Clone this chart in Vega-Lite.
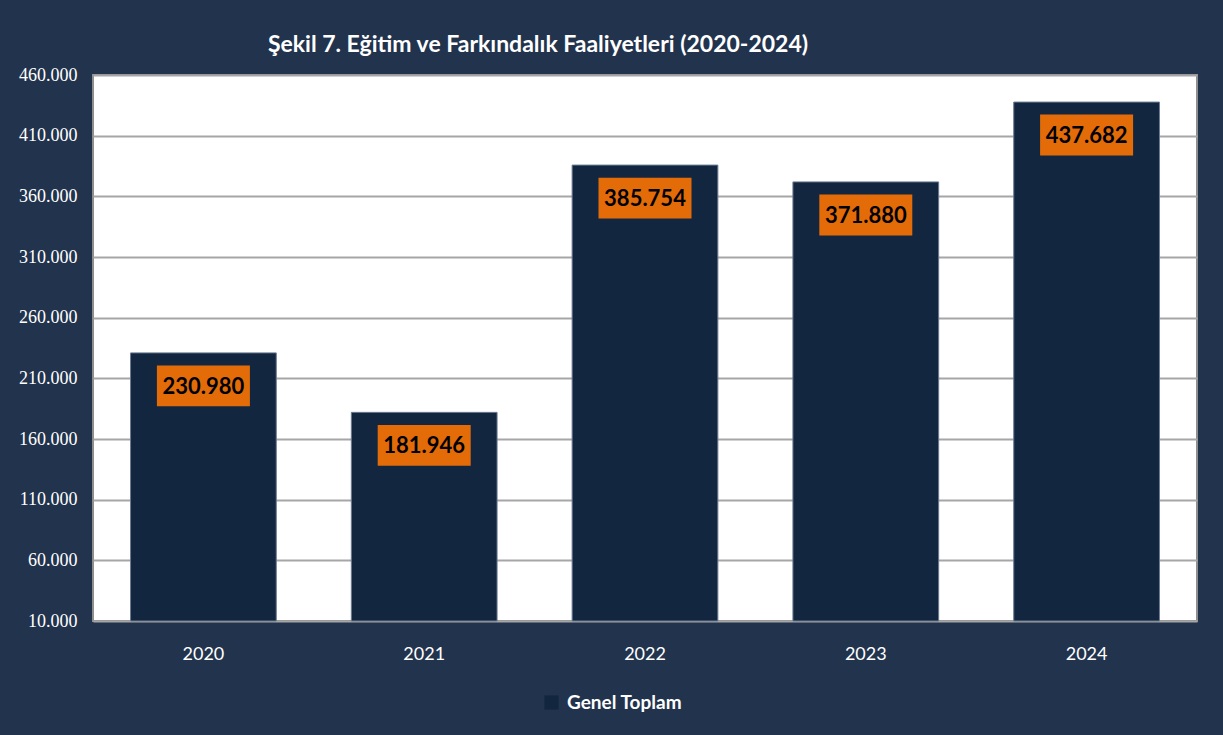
{
  "$schema": "https://vega.github.io/schema/vega-lite/v6.json",
  "width": 1104,
  "height": 546,
  "autosize": {"type": "none"},
  "padding": {"left": 93, "top": 75, "right": 26, "bottom": 114},
  "background": "#22334d",
  "config": {
    "locale": {"number": {"decimal": ",", "thousands": ".", "grouping": [3], "currency": ["", ""]}},
    "view": {"fill": "#ffffff", "stroke": "#8f8f8f", "strokeWidth": 2}
  },
  "title": {
    "text": "Şekil  7. Eğitim ve Farkındalık  Faaliyetleri (2020-2024)",
    "anchor": "middle",
    "dx": -107,
    "dy": 31,
    "offset": 22,
    "baseline": "alphabetic",
    "font": "Lato",
    "fontSize": 23,
    "fontWeight": "bold",
    "color": "#ffffff"
  },
  "data": {
    "values": [
      {"yil": "2020", "deger": 230980, "seri": "Genel Toplam"},
      {"yil": "2021", "deger": 181946, "seri": "Genel Toplam"},
      {"yil": "2022", "deger": 385754, "seri": "Genel Toplam"},
      {"yil": "2023", "deger": 371880, "seri": "Genel Toplam"},
      {"yil": "2024", "deger": 437682, "seri": "Genel Toplam"}
    ]
  },
  "encoding": {
    "x": {
      "field": "yil",
      "type": "nominal",
      "scale": {"paddingInner": 0.34, "paddingOuter": 0.17},
      "axis": {
        "title": null,
        "labelAngle": 0,
        "labelFont": "Lato",
        "labelFontSize": 18,
        "labelColor": "#ffffff",
        "labelPadding": 24,
        "ticks": false,
        "domain": false
      }
    },
    "y": {
      "field": "deger",
      "type": "quantitative",
      "scale": {"domain": [10000, 460000], "nice": false, "zero": false},
      "axis": {
        "title": null,
        "values": [10000, 60000, 110000, 160000, 210000, 260000, 310000, 360000, 410000, 460000],
        "format": ",d",
        "labelFont": "Liberation Serif",
        "labelFontSize": 18,
        "labelColor": "#ffffff",
        "labelPadding": 16,
        "ticks": false,
        "domain": false,
        "grid": true,
        "gridColor": "#a6a6a6",
        "gridWidth": 2
      }
    }
  },
  "layer": [
    {
      "mark": {"type": "bar", "stroke": "#6b7a8f", "strokeWidth": 1},
      "encoding": {
        "y2": {"datum": 10000},
        "color": {
          "field": "seri",
          "type": "nominal",
          "scale": {"range": ["#12263f"]},
          "legend": {
            "title": null,
            "orient": "none",
            "legendX": 449,
            "legendY": 618,
            "symbolType": "square",
            "symbolSize": 200,
            "symbolStrokeWidth": 0,
            "labelFont": "Lato",
            "labelFontSize": 19,
            "labelFontWeight": "bold",
            "labelColor": "#ffffff",
            "labelOffset": 6
          }
        }
      }
    },
    {
      "mark": {
        "type": "point",
        "shape": "M-1,-0.44L1,-0.44L1,0.44L-1,0.44Z",
        "size": 8649,
        "filled": true,
        "color": "#e36c09",
        "opacity": 1,
        "yOffset": 33
      }
    },
    {
      "mark": {
        "type": "text",
        "font": "Lato",
        "fontSize": 22,
        "fontWeight": "bold",
        "color": "#000000",
        "baseline": "middle",
        "align": "center",
        "yOffset": 34
      },
      "encoding": {
        "text": {"field": "deger", "type": "quantitative", "format": ",d"}
      }
    }
  ]
}
